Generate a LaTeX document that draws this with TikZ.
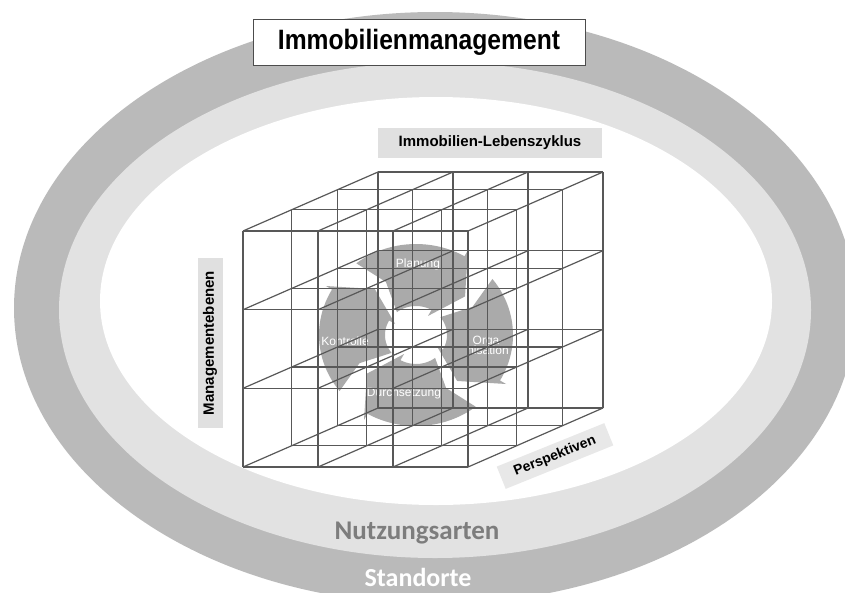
\documentclass[tikz,border=0pt]{standalone}
\usepackage{fontspec}
\setmainfont{Liberation Sans}
\newfontfamily\calib{Carlito}
\definecolor{ringdark}{RGB}{186,186,186}
\definecolor{ringlight}{RGB}{226,226,226}
\definecolor{cyc}{RGB}{170,170,170}
\definecolor{wire}{RGB}{88,88,88}
\definecolor{labelbg}{RGB}{224,224,224}
\definecolor{ringtext}{RGB}{125,125,125}

% one curved arrow of the management cycle: tail angle, head base angle, tip angle
\newcommand{\cycarrow}[3]{%
  \fill[cyc] plot[domain=#1:#2,samples=24] ({416+97*cos(\x)},{335+91*sin(\x)})
    -- ({416+104*cos(#2)},{335+98*sin(#2)})
    -- ({416+64*cos(#3)},{335+60*sin(#3)})
    -- ({416+24*cos(#2)},{335+22*sin(#2)})
    -- plot[domain=#2:#1,samples=24] ({416+31*cos(\x)},{335+29*sin(\x)})
    -- ({416+64*cos(#1+10)},{335+60*sin(#1+10)}) -- cycle;}

\tikzset{
  wireline/.style={draw=wire, line width=1.2pt},
  tagbox/.style={fill=labelbg, inner sep=3pt, font=\bfseries},
  cyctext/.style={text=white, font=\fontsize{12}{13}\selectfont, align=center},
}

\begin{document}
\begin{tikzpicture}[x=1pt,y=-1pt]
\useasboundingbox (0,0) rectangle (845,592);
\clip (0,0) rectangle (845,592);
\fill[white] (0,0) rectangle (845,592);

% rings: Standorte, Nutzungsarten, inner field
\fill[ringdark] (435,308) ellipse [x radius=421, y radius=296];
\fill[ringlight] (435,310) ellipse [x radius=376, y radius=248];
\fill[white] (436,301) ellipse [x radius=336, y radius=204];

% management cycle
\cycarrow{232}{300}{320}
\cycarrow{322}{390}{410}
\cycarrow{52}{120}{140}
\cycarrow{142}{210}{230}
\node[cyctext] (plan) at (418,264) {Planung};
\node[cyctext] (orga) at (488,345) {Orga-\\[-3pt]nisation};
\node[cyctext] (durch) at (404,393) {Durchsetzung};
\node[cyctext] (kontr) at (345,341) {Kontrolle};

% 3x3x3 lattice
\foreach \t in {0,0.36,0.7,1}{
  \foreach \yy in {231,309.7,388.3,467}
    \draw[wireline] ({243+135*\t},{\yy-59*\t}) -- ({468+135*\t},{\yy-59*\t});
  \foreach \xx in {243,318,393,468}
    \draw[wireline] ({\xx+135*\t},{231-59*\t}) -- ({\xx+135*\t},{467-59*\t});
}
\foreach \xx in {243,318,393,468}
  \foreach \yy in {231,309.7,388.3,467}
    \draw[wireline] (\xx,\yy) -- ++(135,-59);

% labels
\node[draw=black!70, line width=1pt, fill=white, minimum width=332pt, minimum height=46pt,
      inner sep=0pt] (title) at (419,42)
  {\fontsize{28}{30}\selectfont\bfseries\scalebox{0.88}[1]{Immobilienmanagement}};
\node[tagbox, minimum width=224pt, minimum height=30pt,
      font=\fontsize{15}{17}\selectfont\bfseries] (zyklus) at (490,143) {Immobilien-Lebenszyklus};
\node[tagbox, rotate=90, minimum width=170pt, minimum height=25pt,
      font=\fontsize{15}{17}\selectfont\bfseries] (ebenen) at (210,343) {Managementebenen};
\node[tagbox, rotate=22, fill=gray!18, minimum width=116pt, minimum height=24pt,
      font=\fontsize{14}{16}\selectfont\bfseries] (persp) at (555,456) {Perspektiven};
\node[text=ringtext, font=\calib\bfseries\fontsize{27}{30}\selectfont] (nutz) at (417,533) {Nutzungsarten};
\node[text=white, font=\calib\bfseries\fontsize{26}{28}\selectfont] (stand) at (418,577) {Standorte};
\end{tikzpicture}
\end{document}
